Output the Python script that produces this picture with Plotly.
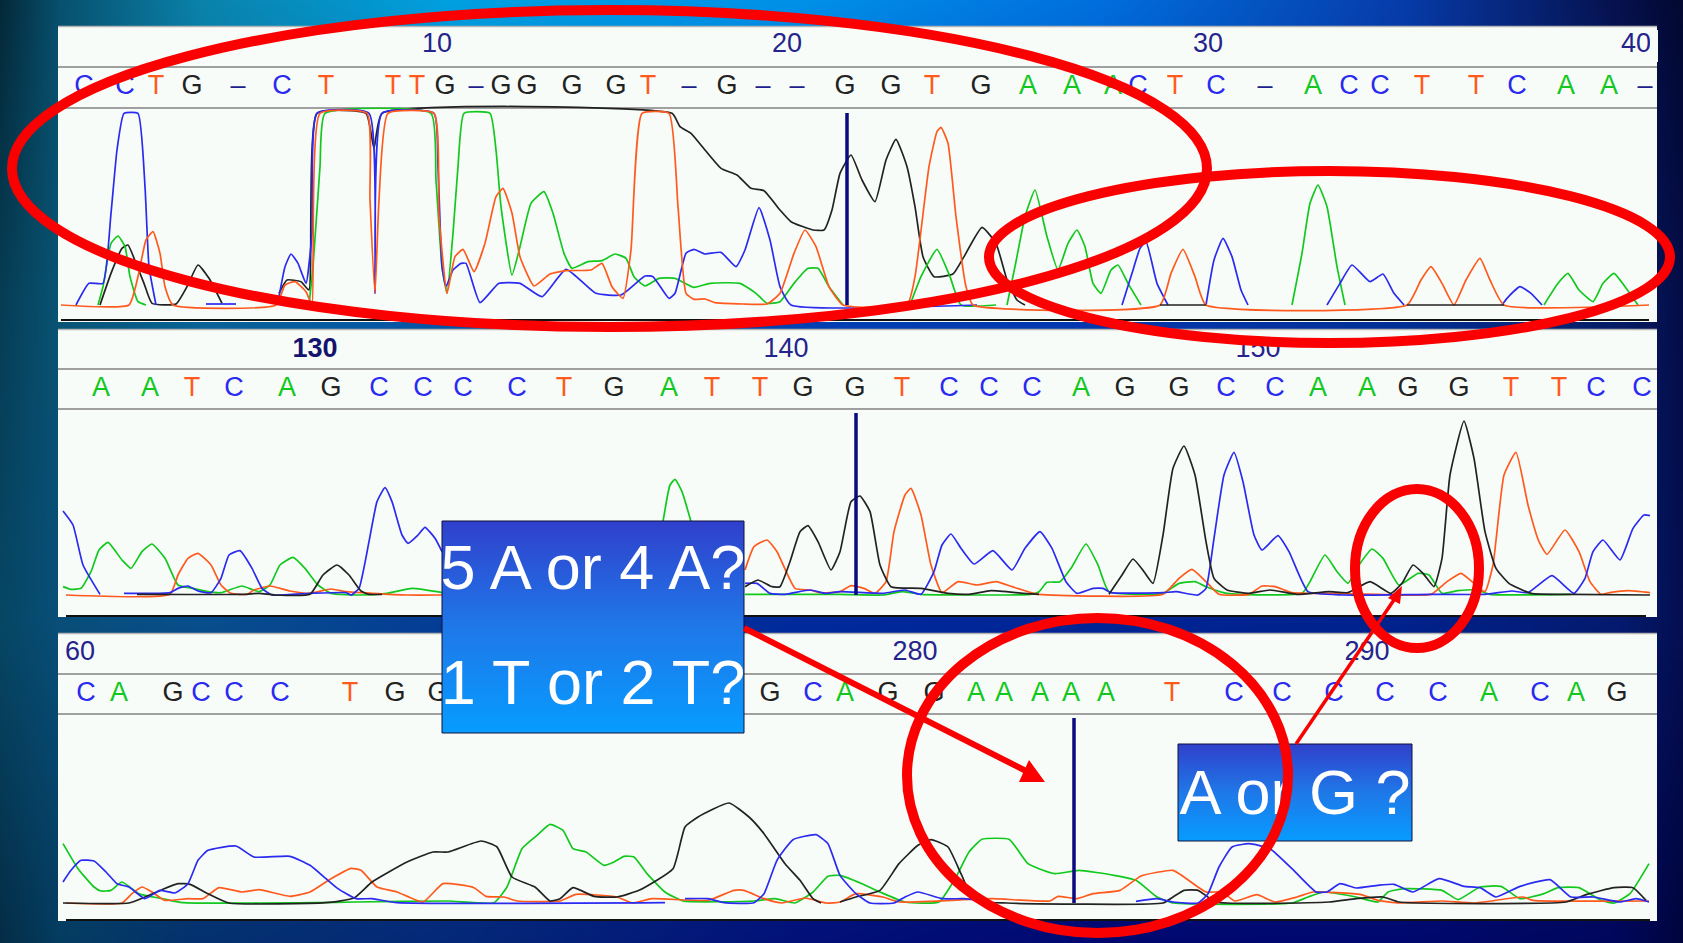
import base64, struct, zlib
import numpy as np
import plotly.graph_objects as go

W, H = 1683, 943

# ---------- chromatogram traces: (scan, signal) pairs; None breaks a line ----------
P1_C = [(76,0),(89,65),(103,65),(111,275),(117,465),(124,575),(138,575),(145,355),(149,115),(156,0),None,
        (206,3),(236,3),None,(279,25),(285,115),(291,153),(298,125),(306,65),(312,215),(317,575),(369,575),(375,35),(382,575),
        (434,575),(438,415),(442,115),(446,55),(453,105),(461,125),(466,125),(480,7),(499,65),(520,65),(542,25),(566,107),
        (596,35),(621,30),(645,87),(653,85),(669,20),(675,35),(686,155),(694,167),(705,153),(721,158),(736,115),(745,165),
        (759,292),(770,195),(780,55),(791,0),(977,0),None,(1122,0),(1132,95),(1140,170),(1146,190),(1157,65),(1168,0),None,
        (1206,0),(1214,135),(1223,200),(1232,145),(1241,45),(1248,0),None,(1327,0),(1340,65),(1352,120),(1370,70),(1383,93),
        (1394,35),(1404,0),None,(1502,0),(1507,20),(1520,55),(1531,35),(1542,0)]
P1_A = [(98,0),(103,55),(111,185),(118,207),(125,175),(130,85),(138,10),(146,0),None,(309,0),(313,115),(320,415),(325,575),
        (431,575),(436,375),(442,115),(447,35),(453,215),(458,415),(464,575),(490,575),(496,465),(501,295),(512,90),(520,175),
        (531,305),(544,340),(553,275),(564,155),(572,110),(588,130),(602,133),(615,153),(626,140),(634,85),(645,57),(659,80),
        (675,80),(694,53),(710,65),(740,65),(756,35),(767,5),(780,10),(794,65),(808,110),(818,110),(829,55),(843,0),None,
        (910,0),(921,85),(937,167),(950,85),(961,0),(996,0),None,(1007,0),(1015,115),(1025,265),(1035,345),(1047,205),(1058,105),
        (1068,185),(1077,225),(1085,175),(1093,65),(1101,35),(1111,105),(1118,120),(1128,65),(1141,0),None,(1292,0),(1302,155),
        (1310,305),(1318,360),(1327,295),(1337,115),(1345,0),None,(1544,0),(1558,65),(1568,95),(1579,45),(1593,10),(1603,65),
        (1614,95),(1625,55),(1638,0)]
P1_G = [(100,0),(111,95),(122,170),(128,180),(136,125),(144,65),(152,5),(176,3),(187,55),(198,120),(209,80),(222,5),None,
        (279,35),(287,75),(301,70),(309,45),(317,575),(366,575),(374,470),(382,575),(672,575),(680,535),(691,515),(705,465),
        (721,410),(737,390),(751,350),(764,343),(780,285),(791,250),(813,225),(824,225),(832,285),(840,395),(851,450),(862,375),
        (875,310),(886,435),(896,497),(907,415),(915,295),(923,145),(934,85),(953,93),(964,145),(982,233),(996,185),(1007,75),
        (1017,15),(1025,0)]
P1_T = [(61,0),(129,0),(138,85),(146,195),(153,220),(160,155),(165,55),(173,0),(276,0),(285,60),(295,70),(306,40),(312,0),
        (320,575),(367,575),(370,315),(375,35),(379,315),(388,575),(434,575),(439,265),(447,35),(455,145),(463,167),(474,100),
        (485,185),(496,325),(503,350),(512,275),(520,145),(534,57),(550,93),(566,103),(591,105),(602,125),(612,55),(623,20),
        (631,165),(642,575),(669,575),(678,295),(686,35),(694,17),(705,18),(715,7),(743,3),(767,3),(780,35),(794,155),(805,225),
        (816,175),(829,55),(843,0),(907,0),(915,85),(929,415),(937,520),(941,533),(948,485),(956,265),(966,55),(973,0),(1160,0),
        (1171,95),(1183,167),(1195,85),(1206,0),(1407,0),(1421,75),(1431,115),(1442,65),(1454,0),(1466,75),(1480,140),(1490,75),
        (1504,0),(1649,0)]
P1_G_BASE = [(1160,0),(1206,0),None,(1407,0),(1504,0)]

P2_C = [(63,252),(73,210),(83,90),(100,2),None,(124,5),(170,7),(178,20),(188,27),(198,12),(211,7),(221,50),(229,120),(240,133),
        (252,80),(262,20),(272,0),(310,5),(346,7),(351,0),(359,20),(369,160),(377,280),(385,322),(392,280),(402,180),(408,155),
        (418,180),(425,203),(435,170),(442,130),None,(745,35),(757,35),(770,5),(785,2),(810,15),(826,5),(840,10),(883,5),(905,15),
        (921,2),(934,70),(942,150),(951,183),(961,140),(974,93),(993,133),(1012,75),(1025,140),(1040,190),(1052,140),(1066,40),
        (1077,5),(1093,20),(1103,20),(1111,7),(1163,7),(1176,10),(1198,0),(1206,20),(1214,170),(1224,360),(1234,428),(1243,340),
        (1254,180),(1262,135),(1278,178),(1289,130),(1308,10),(1343,0),(1431,2),(1485,2),(1512,12),(1528,7),(1552,58),(1574,5),
        (1585,50),(1593,130),(1603,165),(1620,105),(1633,200),(1644,240),(1650,238)]
P2_A = [(63,25),(71,17),(81,20),(91,70),(99,135),(108,158),(122,105),(131,80),(142,130),(152,153),(165,110),(178,30),(193,20),
        (208,10),(221,7),(242,27),(259,10),(270,30),(280,90),(293,113),(305,80),(318,30),(331,5),(361,0),(387,5),(412,20),(443,7),None,
        (663,220),(670,330),(675,347),(682,310),(691,220),None,(745,2),(840,2),(883,0),(902,10),(921,2),(1030,2),(1039,10),(1047,38),
        (1060,40),(1071,80),(1086,153),(1098,90),(1109,10),(1163,5),(1179,35),(1195,40),(1206,25),(1227,5),(1302,5),(1310,40),
        (1325,120),(1337,70),(1348,35),(1359,90),(1372,138),(1383,110),(1399,30),(1418,65),(1429,60),(1442,5),(1458,13),(1477,15),
        (1490,2),(1571,2)]
P2_G = [(137,2),(244,2),(259,5),(275,0),(310,2),(323,60),(337,90),(349,60),(361,12),(369,2),(382,2),None,(745,25),(758,45),
        (772,25),(780,25),(790,100),(800,190),(808,208),(818,160),(831,75),(840,130),(851,280),(860,297),(870,250),(880,90),(891,25),
        (921,20),(948,5),(969,2),(991,13),(1023,5),(1039,2),None,(1109,2),(1122,60),(1133,108),(1144,70),(1153,35),(1163,180),
        (1173,380),(1184,447),(1195,360),(1206,160),(1214,50),(1227,15),(1249,5),(1270,15),(1297,2),(1329,10),(1348,7),(1370,40),
        (1391,5),(1402,35),(1413,90),(1423,65),(1434,25),(1442,110),(1450,360),(1464,522),(1474,410),(1485,190),(1496,80),(1509,35),
        (1531,5),(1571,2),(1650,0)]
P2_T = [(66,0),(170,2),(178,60),(188,110),(198,125),(211,90),(221,30),(231,5),(247,2),(254,15),(270,27),(290,12),(310,5),(331,18),
        (346,10),(372,5),(407,0),(442,0),None,(745,75),(754,145),(767,165),(777,130),(795,20),(810,15),(821,7),(840,10),(851,28),
        (864,20),(875,5),(886,40),(894,190),(905,300),(911,320),(921,240),(931,90),(942,7),(958,40),(977,30),(996,40),(1012,25),
        (1028,10),(1039,2),(1163,2),(1179,50),(1192,77),(1206,40),(1219,2),(1249,2),(1262,27),(1275,25),(1292,7),(1327,5),(1378,2),
        (1431,2),(1447,40),(1461,65),(1474,35),(1485,10),(1493,90),(1504,360),(1516,428),(1528,270),(1539,160),(1547,122),(1565,195),
        (1579,130),(1590,40),(1601,2),(1611,8),(1628,13),(1650,7)]

P3_C = [(63,63),(71,98),(81,128),(94,126),(106,93),(117,58),(129,48),(145,13),(160,38),(175,30),(188,58),(198,128),(208,158),
        (236,171),(254,138),(290,140),(310,113),(326,73),(338,43),(356,13),(372,13),(397,1),(665,1),None,(685,13),(708,13),(724,1),
        (754,1),(764,28),(777,128),(793,190),(816,205),(828,178),(840,83),(856,28),(870,0),(894,0),(905,18),(918,33),(942,13),(964,13),
        (980,8),None,(1136,5),(1157,13),(1173,3),(1198,0),(1208,28),(1219,108),(1232,168),(1249,178),(1270,163),(1292,103),(1316,33),
        (1327,33),(1340,58),(1356,45),(1378,53),(1394,56),(1413,33),(1439,73),(1464,50),(1480,46),(1496,18),(1520,50),(1550,70),
        (1571,18),(1593,18),(1620,3),(1636,13),(1649,3)]
P3_A = [(63,178),(78,103),(94,48),(101,36),(111,38),(122,63),(139,28),(162,13),(183,1),(316,1),(356,3),(448,6),(494,1),(507,48),
        (522,163),(537,203),(550,236),(563,218),(573,163),(586,153),(604,113),(614,123),(624,140),(634,138),(647,88),(665,33),(683,6),
        (754,6),(775,13),(795,0),(813,33),(828,80),(840,83),(862,58),(880,33),(905,3),(939,3),(956,78),(969,153),(982,191),(1009,191),
        (1028,118),(1039,103),(1055,88),(1079,98),(1114,83),(1136,68),(1157,18),(1173,0),(1292,0),(1308,18),(1324,33),(1356,18),
        (1378,3),(1388,33),(1404,43),(1442,38),(1458,10),(1480,48),(1501,50),(1520,13),(1544,28),(1558,46),(1579,46),(1601,8),(1614,0),
        (1630,28),(1649,118)]
P3_G = [(63,0),(129,0),(145,18),(162,40),(178,58),(190,56),(208,28),(229,0),(326,1),(354,15),(372,63),(407,123),(433,153),(448,153),
        (481,186),(497,168),(512,78),(535,48),(550,6),(560,13),(573,46),(594,20),(617,18),(639,38),(673,103),(685,228),(698,258),
        (729,300),(749,258),(764,208),(785,118),(800,68),(813,13),(821,0),None,(840,3),(856,18),(880,38),(899,118),(918,173),(931,190),
        (948,168),(961,88),(974,8),(1007,0),(1163,0),(1173,18),(1184,38),(1198,38),(1216,3),(1329,3),(1356,13),(1383,18),(1399,3),
        (1566,3),(1587,26),(1614,46),(1633,46),(1646,8)]
P3_T = [(66,0),(122,0),(132,28),(142,48),(152,33),(165,8),(188,13),(203,13),(219,46),(242,33),(259,40),(290,20),(310,33),(331,73),
        (351,104),(361,98),(377,48),(397,33),(423,3),(443,58),(474,46),(486,20),(504,18),(517,6),(560,6),(576,26),(617,18),(632,0),
        (652,13),(708,8),(734,38),(744,38),(764,13),(782,0),(805,15),(826,0),(840,3),(856,28),(883,18),(899,3),(991,13),(1050,6),
        (1058,20),(1077,13),(1093,28),(1120,38),(1141,81),(1173,98),(1184,78),(1206,33),(1222,33),(1235,6),(1257,25),(1275,3),(1297,18),
        (1313,33),(1361,25),(1378,8),(1399,0),(1442,6),(1474,0),(1523,18),(1533,8),(1649,6)]

# ---------- base calls and numbering ----------
P1_CALLS = "CCTG-CTTTG-GGGGT-G--GGTGAAACTC-ACCTTCAA-"
P1_CALL_X = [84,125,156,192,238,282,326,393,417,445,476,501,527,572,616,648,689,727,763,797,845,891,932,981,1028,1072,1113,
             1138,1175,1216,1265,1313,1349,1380,1422,1476,1517,1566,1609,1645]
P2_CALLS = "AATCAGCCCCTGATTGGTCCCAGGCCAAGGTTCC"
P2_CALL_X = [101,150,192,234,287,331,379,423,463,517,564,614,669,712,760,803,855,902,949,989,1032,1081,1125,1179,1226,1275,
             1318,1367,1408,1459,1511,1559,1596,1642]
P3_CALLS = "CAGCCCTGGGCAGGAAAAATCCCCCACAG"
P3_CALL_X = [86,119,173,201,234,280,350,395,438,770,813,845,888,934,976,1004,1040,1071,1106,1172,1234,1282,1334,1385,1438,
             1489,1540,1576,1617]
P1_TICKS, P1_TICK_X = ["10","20","30","40"], [437,787,1208,1636]
P2_TICKS, P2_TICK_X = ["130","140","150"], [315,786,1258]
P3_TICKS, P3_TICK_X = ["60","280","290"], [80,915,1367]
MARKER_X = [847, 856, 1074]

# ---------- background colour field ----------
BG_ROWS = [0, 300, 620, 943]
BG_COLS = [0, 60, 200, 450, 800, 1100, 1400, 1620, 1683]
BG_RGB = [
 [(4,40,56),(7,80,110),(10,130,170),(0,160,224),(0,144,232),(0,110,220),(6,60,170),(6,16,76),(2,8,48)],
 [(6,60,84),(8,84,116),(8,100,150),(4,84,170),(0,66,180),(0,56,176),(2,48,150),(6,28,100),(4,12,70)],
 [(6,70,100),(8,78,120),(8,78,140),(4,60,150),(0,42,156),(0,36,150),(0,34,140),(4,26,110),(4,14,80)],
 [(4,44,70),(4,60,96),(4,48,110),(4,40,120),(2,16,120),(0,8,112),(0,8,110),(0,6,90),(0,4,60)],
]

CLR = {"C": "#2a2af0", "A": "#12c81e", "G": "#222222", "T": "#ff5a1e", "-": "#20208c"}
PANEL = "#f8fcf8"
NAVY = "#24248c"

def png_uri(rgb):
    h, w, _ = rgb.shape
    raw = b"".join(b"\x00" + rgb[i].tobytes() for i in range(h))
    def chunk(t, d):
        return struct.pack(">I", len(d)) + t + d + struct.pack(">I", zlib.crc32(t + d) & 0xffffffff)
    data = b"\x89PNG\r\n\x1a\n" + chunk(b"IHDR", struct.pack(">IIBBBBB", w, h, 8, 2, 0, 0, 0)) + chunk(b"IDAT", zlib.compress(raw, 9)) + chunk(b"IEND", b"")
    return "data:image/png;base64," + base64.b64encode(data).decode()

grid = np.array(BG_RGB, float)
xs, ys = np.arange(W), np.arange(H)
by_row = np.stack([np.stack([np.interp(xs, BG_COLS, grid[r, :, c]) for c in range(3)], -1) for r in range(len(BG_ROWS))])
img = np.stack([np.stack([np.interp(ys, BG_ROWS, by_row[:, x, c]) for c in range(3)], -1) for x in range(0, W)], 1)
img = img.round().astype(np.uint8)

fig = go.Figure()

# panel geometry: top, bottom, baseline in page rows
PANELS = [(26, 322, 305), (329, 617, 595), (633, 921, 903)]
X0, X1 = 58, 1657
layout_axes = {}
for i, (top, bot, base) in enumerate(PANELS, 1):
    sfx = "" if i == 1 else str(i)
    layout_axes["xaxis" + sfx] = dict(domain=[X0 / W, X1 / W], range=[X0, X1], visible=False, fixedrange=True, anchor="y" + sfx)
    layout_axes["yaxis" + sfx] = dict(domain=[1 - bot / H, 1 - top / H], range=[(base - bot) * 3, (base - top) * 3], visible=False,
                                      fixedrange=True, anchor="x" + sfx)
layout_axes["xaxis4"] = dict(domain=[0, 1], range=[0, W], visible=False, fixedrange=True, anchor="y4")
layout_axes["yaxis4"] = dict(domain=[0, 1], range=[H, 0], visible=False, fixedrange=True, anchor="x4")

def line(pairs, color, panel, width=1.7):
    x = [p[0] if p else None for p in pairs]
    y = [p[1] if p else None for p in pairs]
    sfx = "" if panel == 1 else str(panel)
    fig.add_trace(go.Scatter(x=x, y=y, mode="lines", xaxis="x" + sfx, yaxis="y" + sfx, hoverinfo="skip", showlegend=False,
                             line=dict(color=color, width=width, shape="spline", smoothing=0.45)))

for panel, series in enumerate([
    [(P1_G, "G"), (P1_A, "A"), (P1_C, "C"), (P1_T, "T"), (P1_G_BASE, "G")],
    [(P2_A, "A"), (P2_T, "T"), (P2_C, "C"), (P2_G, "G")],
    [(P3_A, "A"), (P3_T, "T"), (P3_G, "G"), (P3_C, "C")],
], 1):
    for pairs, base_call in series:
        line(pairs, CLR[base_call], panel)

# marker bars
for panel, (mx, (top, bot, base), y_top) in enumerate(zip(MARKER_X, PANELS, [113, 413, 718]), 1):
    sfx = "" if panel == 1 else str(panel)
    fig.add_trace(go.Scatter(x=[mx, mx], y=[0, (base - y_top) * 3], mode="lines", xaxis="x" + sfx, yaxis="y" + sfx, hoverinfo="skip",
                             showlegend=False, line=dict(color="#0a0a80", width=3.5)))

def text_row(labels, x, row, colors, size, bold=False):
    fig.add_trace(go.Scatter(x=x, y=[row] * len(x), text=[("<b>%s</b>" % l if bold else l) for l in labels], mode="text",
                             xaxis="x4", yaxis="y4", hoverinfo="skip", showlegend=False, cliponaxis=False,
                             textposition="middle center",
                             textfont=dict(family="Liberation Sans", size=size, color=colors)))

for calls, cx, row in [(P1_CALLS, P1_CALL_X, 87), (P2_CALLS, P2_CALL_X, 389), (P3_CALLS, P3_CALL_X, 694)]:
    text_row([c if c != "-" else "–" for c in calls], cx, row, [CLR[c] for c in calls], 27)
text_row(P1_TICKS, P1_TICK_X, 45, [NAVY] * 4, 27)
text_row(P2_TICKS[:1], P2_TICK_X[:1], 350, ["#14146e"], 27, bold=True)
text_row(P2_TICKS[1:], P2_TICK_X[1:], 350, [NAVY] * 2, 27)
text_row(P3_TICKS, P3_TICK_X, 653, [NAVY] * 3, 27)

# question boxes
BOX_SCALE = [[0, "#069cff"], [0.5, "#1f78e8"], [1, "#3040cc"]]
for x0, x1, y0, y1 in [(442, 744, 521, 733), (1178, 1412, 744, 841)]:
    fig.add_trace(go.Scatter(x=[x0, x1, x1, x0, x0], y=[y0, y0, y1, y1, y0], mode="lines", fill="toself", xaxis="x4", yaxis="y4",
                             hoverinfo="skip", showlegend=False, line=dict(color="#10103a", width=1),
                             fillgradient=dict(type="vertical", colorscale=BOX_SCALE)))
for label, x, y, size in [("5 A or 4 A?", 593, 573, 63), ("1 T or 2 T?", 593, 688, 63), ("A or G ?", 1295, 798, 63)]:
    text_row([label], [x], y, ["#ffffff"], size)

# ---------- panels (page-level layer, under every trace) ----------
shapes = []
def page(**k):
    k.update(xref="paper", yref="paper", layer="below")
    k["x0"], k["x1"] = k["x0"] / W, k["x1"] / W
    k["y0"], k["y1"] = 1 - k["y0"] / H, 1 - k["y1"] / H
    shapes.append(k)
for top, bot, base in PANELS:
    page(type="rect", x0=X0, x1=X1, y0=top, y1=bot, fillcolor=PANEL, line_width=0)
    page(type="line", x0=X0, x1=X1, y0=top + .5, y1=top + .5, line=dict(color="#b4b4b4", width=1.5))
for y in [67, 108, 369, 409, 674, 714]:
    page(type="line", x0=X0, x1=X1, y0=y, y1=y, line=dict(color="#a0a0a0", width=2))
for y, a, b in [(320, 61, 1649), (616, 66, 1646), (920, 66, 1650)]:
    page(type="line", x0=a, x1=b, y0=y, y1=y, line=dict(color="#111111", width=2))

# ---------- drawn-on red marks ----------
RED = "#fb0000"
def s(**k):
    shapes.append(dict(xref="x4", yref="y4", layer="above", **k))
s(type="rect", x0=1650, x1=1658, y0=30, y1=62, fillcolor=PANEL, line_width=0)
for x0, x1, y0, y1 in [(12, 1207, 10, 327), (989, 1670, 171, 343), (907, 1288, 618, 933), (1355, 1479, 489, 648)]:
    s(type="circle", x0=x0, x1=x1, y0=y0, y1=y1, line=dict(color=RED, width=10))
s(type="line", x0=744, y0=628, x1=1026, y1=771, line=dict(color=RED, width=6))
s(type="path", path="M 1045 782 L 1029 760 L 1019 782 Z", fillcolor=RED, line_width=0)
s(type="line", x0=1296, y0=744, x1=1398, y1=594, line=dict(color=RED, width=3.5))
s(type="path", path="M 1402 586 L 1388 598 L 1400 604 Z", fillcolor=RED, line_width=0)

fig.update_layout(width=W, height=H, margin=dict(l=0, r=0, t=0, b=0), paper_bgcolor="#03305a", plot_bgcolor="rgba(0,0,0,0)",
                  showlegend=False, shapes=shapes,
                  images=[dict(source=png_uri(img), xref="paper", yref="paper", x=0, y=1, sizex=1, sizey=1, sizing="stretch",
                               xanchor="left", yanchor="top", layer="below")],
                  **layout_axes)
fig.write_html("out.html", config=dict(displayModeBar=False),
               post_script="document.body.style.margin='0';document.body.style.overflow='hidden';")
